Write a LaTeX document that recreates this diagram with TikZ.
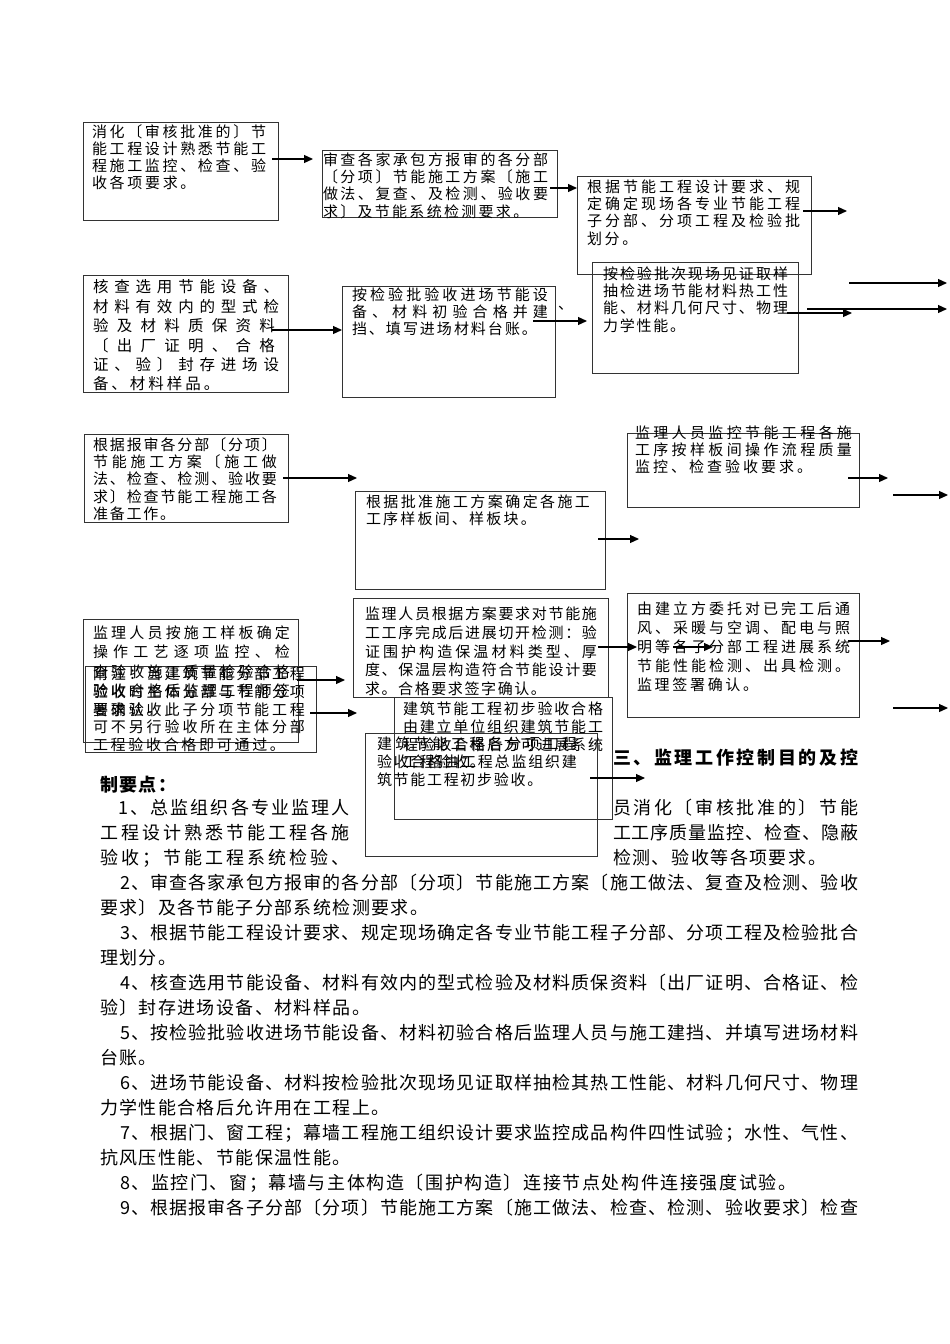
\documentclass[tikz,border=0pt]{standalone}
\usepackage{fontspec}
\newfontfamily\cjk{Noto Sans CJK SC}
\usetikzlibrary{arrows.meta}
\def\sfirst#1{#1\sloop}
\def\sloop#1{\ifx#1\relax\else\sgap#1\expandafter\sloop\fi}
\newcommand\jw[2]{\hbox to #1{\def\sgap{\hfil}\sfirst#2\relax}}
\newcommand\kw[2]{\hbox{\def\sgap{\kern#1}\sfirst#2\relax}}
\newcommand\tblock[3]{\vtop{\cjk\fontsize{#1}{#2}\selectfont #3}}
\begin{document}
\begin{tikzpicture}[x=1pt,y=-1pt,
  frame/.style={draw=black!80,line width=0.8pt,inner sep=0pt,outer sep=0pt,anchor=north west},
  txt/.style={anchor=base west,inner sep=0pt,outer sep=0pt},
  arr/.style={line width=1.2pt,-{Triangle[length=9pt,width=8pt]}}]
\fill[white] (0,0) rectangle (950,1344);
\useasboundingbox (0,0) rectangle (950,1344);
% boxes
\node[frame,minimum width=195pt,minimum height=98pt] (b1) at (83,122) {};
\node[frame,minimum width=235pt,minimum height=67pt] (b2) at (322,150) {};
\node[frame,minimum width=234pt,minimum height=98pt] (b3) at (577,176) {};
\node[frame,minimum width=205pt,minimum height=117pt] (b4) at (83,275) {};
\node[frame,minimum width=213pt,minimum height=111pt] (b5) at (342,286) {};
\node[frame,minimum width=206pt,minimum height=111pt] (b6) at (592,262) {};
\node[frame,minimum width=204pt,minimum height=88pt] (b7) at (84,434) {};
\node[frame,minimum width=250pt,minimum height=98pt] (b8) at (355,491) {};
\node[frame,minimum width=232pt,minimum height=74pt] (b9) at (627,433) {};
\node[frame,minimum width=215pt,minimum height=123pt] (b10) at (83,619) {};
\node[frame,minimum width=231pt,minimum height=86pt] (b11) at (85,666) {};
\node[frame,minimum width=255pt,minimum height=99pt] (b12) at (353,598) {};
\node[frame,minimum width=218pt,minimum height=122pt] (b13) at (394,697) {};
\node[frame,minimum width=232pt,minimum height=123pt] (b14) at (365,733) {};
\node[frame,minimum width=232pt,minimum height=124pt] (b15) at (627,593) {};
% box texts
\node[txt] (t1) at (92,137.5) {\tblock{15}{17}{\jw{174pt}{消化〔审核批准的〕节}\jw{174pt}{能工程设计熟悉节能工}\jw{174pt}{程施工监控、检查、验}\kw{2.7pt}{收各项要求。}}};
\node[txt] (t2) at (323,165.5) {\tblock{15}{17.2}{\jw{225pt}{审查各家承包方报审的各分部}\jw{225pt}{〔分项〕节能施工方案〔施工}\jw{225pt}{做法、复查、及检测、验收要}\kw{2.3pt}{求〕及节能系统检测要求。}}};
\node[txt] (t3) at (587,192.5) {\tblock{15}{17.2}{\jw{213pt}{根据节能工程设计要求、规}\jw{213pt}{定确定现场各专业节能工程}\jw{213pt}{子分部、分项工程及检验批}\kw{2.7pt}{划分。}}};
\node[txt] (t4) at (93,292.8) {\tblock{15.5}{19.4}{\jw{186pt}{核查选用节能设备、}\jw{186pt}{材料有效内的型式检}\jw{182pt}{验及材料质保资料}\jw{182pt}{〔出厂证明、合格}\jw{186pt}{证、验〕封存进场设}\kw{3pt}{备、材料样品。}}};
\node[txt] (t5) at (352,300.5) {\tblock{15}{17.2}{\jw{196pt}{按检验批验收进场节能设}\jw{196pt}{备、材料初验合格并建}\kw{2pt}{挡、填写进场材料台账。}}};
\node[txt] (t5b) at (558,309) {\cjk\fontsize{15}{17}\selectfont 、};
\node[txt] (t6) at (603,279.5) {\tblock{15}{17.2}{\jw{185pt}{按检验批次现场见证取样}\jw{185pt}{抽检进场节能材料热工性}\jw{185pt}{能、材料几何尺寸、物理}\kw{1.8pt}{力学性能。}}};
\node[txt] (t7) at (93,450.5) {\tblock{15}{17.2}{\jw{184pt}{根据报审各分部〔分项〕}\jw{184pt}{节能施工方案〔施工做}\jw{184pt}{法、检查、检测、验收要}\jw{184pt}{求〕检查节能工程施工各}\kw{1.8pt}{准备工作。}}};
\node[txt] (t8) at (366,507.5) {\tblock{15}{17.2}{\jw{224pt}{根据批准施工方案确定各施工}\kw{2.2pt}{工序样板间、样板块。}}};
\node[txt] (t9) at (635,438.5) {\tblock{15}{17}{\jw{217pt}{监理人员监控节能工程各施}\jw{217pt}{工序按样板间操作流程质量}\kw{3pt}{监控、检查验收要求。}}};
\node[txt] (t10) at (93,638.5) {\tblock{15}{19.25}{\jw{197pt}{监理人员按施工样板确定}\jw{197pt}{操作工艺逐项监控、检}\jw{197pt}{查验收施工质量检验合格}\jw{197pt}{验收合格后监理工程师签}\kw{2.9pt}{署确认。}}};
\node[txt] (t11) at (93,679.5) {\tblock{15}{17.8}{\jw{212pt}{附注：当建筑节能分部工程}\jw{212pt}{验收时主体分部与节能分项}\jw{212pt}{要求验收此子分项节能工程}\jw{212pt}{可不另行验收所在主体分部}\kw{2.7pt}{工程验收合格即可通过。}}};
\node[txt] (t12) at (365,619.5) {\tblock{15}{18.8}{\jw{232pt}{监理人员根据方案要求对节能施}\jw{232pt}{工工序完成后进展切开检测：验}\jw{232pt}{证围护构造保温材料类型、厚}\jw{232pt}{度、保温层构造符合节能设计要}\kw{1.6pt}{求。合格要求签字确认。}}};
\node[txt] (t13) at (403,714.5) {\tblock{15}{17.8}{\jw{200pt}{建筑节能工程初步验收合格}\jw{200pt}{由建立单位组织建筑节能工}\jw{200pt}{程验收合格后方可进展系统}\kw{1.7pt}{工程验收。}}};
\node[txt] (t14) at (377,749.5) {\tblock{15}{18}{\jw{200pt}{建筑节能工程各分项工程}\jw{200pt}{验收合格由工程总监组织建}\kw{1.7pt}{筑节能工程初步验收。}}};
\node[txt] (t15) at (637,614.5) {\tblock{15}{19}{\jw{213pt}{由建立方委托对已完工后通}\jw{213pt}{风、采暖与空调、配电与照}\jw{213pt}{明等各子分部工程进展系统}\jw{213pt}{节能性能检测、出具检测。}\kw{2.7pt}{监理签署确认。}}};
% arrows
\coordinate (a1s) at (272,159); \coordinate (a1e) at (313,159);
\coordinate (a2s) at (550,188); \coordinate (a2e) at (577,188);
\coordinate (a3s) at (803,211); \coordinate (a3e) at (847,211);
\coordinate (a4s) at (272,330); \coordinate (a4e) at (342,330);
\coordinate (a5s) at (533,321); \coordinate (a5e) at (587,321);
\coordinate (a6s) at (787,313); \coordinate (a6e) at (852,313);
\coordinate (a7s) at (807,309); \coordinate (a7e) at (947,309);
\coordinate (a8s) at (849,283); \coordinate (a8e) at (947,283);
\coordinate (a9s) at (283,478); \coordinate (a9e) at (357,478);
\coordinate (a10s) at (848,478); \coordinate (a10e) at (888,478);
\coordinate (a11s) at (893,495); \coordinate (a11e) at (948,495);
\coordinate (a12s) at (598,539); \coordinate (a12e) at (639,539);
\coordinate (a13s) at (297,680); \coordinate (a13e) at (345,680);
\coordinate (a14s) at (310,713); \coordinate (a14e) at (357,713);
\coordinate (a15s) at (598,647); \coordinate (a15e) at (637,647);
\coordinate (a16s) at (673,647); \coordinate (a16e) at (713,647);
\coordinate (a17s) at (848,641); \coordinate (a17e) at (890,641);
\coordinate (a18s) at (893,708); \coordinate (a18e) at (948,708);
\coordinate (a19s) at (590,778); \coordinate (a19e) at (645,778);
\foreach \i in {1,...,19} {\draw[arr] (a\i s) -- (a\i e);}
% body text
\node[txt] (h1) at (613,764.8) {\cjk\bfseries\fontsize{18}{25}\selectfont\jw{245pt}{三、监理工作控制目的及控}};
\node[txt] (h2) at (100,791.8) {\cjk\bfseries\fontsize{18}{25}\selectfont\kw{1.5pt}{制要点：}};
\node[txt] (p1a) at (100,814.8) {\tblock{18}{25}{\hbox{\kern18pt\jw{232pt}{1、总监组织各专业监理人}}\jw{250pt}{工程设计熟悉节能工程各施}\jw{250pt}{验收；节能工程系统检验、}}};
\node[txt] (p1b) at (613,814.8) {\tblock{18}{25}{\jw{245pt}{员消化〔审核批准的〕节能}\jw{245pt}{工工序质量监控、检查、隐蔽}\kw{1.5pt}{检测、验收等各项要求。}}};
\node[txt] (body) at (100,889.8) {\tblock{18}{25}{%
\hbox{\kern20pt\jw{738pt}{2、审查各家承包方报审的各分部〔分项〕节能施工方案〔施工做法、复查及检测、验收}}%
\kw{1.4pt}{要求〕及各节能子分部系统检测要求。}%
\hbox{\kern20pt\jw{738pt}{3、根据节能工程设计要求、规定现场确定各专业节能工程子分部、分项工程及检验批合}}%
\kw{1.4pt}{理划分。}%
\hbox{\kern20pt\jw{738pt}{4、核查选用节能设备、材料有效内的型式检验及材料质保资料〔出厂证明、合格证、检}}%
\kw{1.4pt}{验〕封存进场设备、材料样品。}%
\hbox{\kern20pt\jw{738pt}{5、按检验批验收进场节能设备、材料初验合格后监理人员与施工建挡、并填写进场材料}}%
\kw{1.4pt}{台账。}%
\hbox{\kern20pt\jw{738pt}{6、进场节能设备、材料按检验批次现场见证取样抽检其热工性能、材料几何尺寸、物理}}%
\kw{1.4pt}{力学性能合格后允许用在工程上。}%
\hbox{\kern20pt\jw{738pt}{7、根据门、窗工程；幕墙工程施工组织设计要求监控成品构件四性试验；水性、气性、}}%
\kw{1.4pt}{抗风压性能、节能保温性能。}%
\hbox{\kern20pt\kw{1.6pt}{8、监控门、窗；幕墙与主体构造〔围护构造〕连接节点处构件连接强度试验。}}%
\hbox{\kern20pt\jw{738pt}{9、根据报审各子分部〔分项〕节能施工方案〔施工做法、检查、检测、验收要求〕检查}}}};
\end{tikzpicture}
\end{document}
